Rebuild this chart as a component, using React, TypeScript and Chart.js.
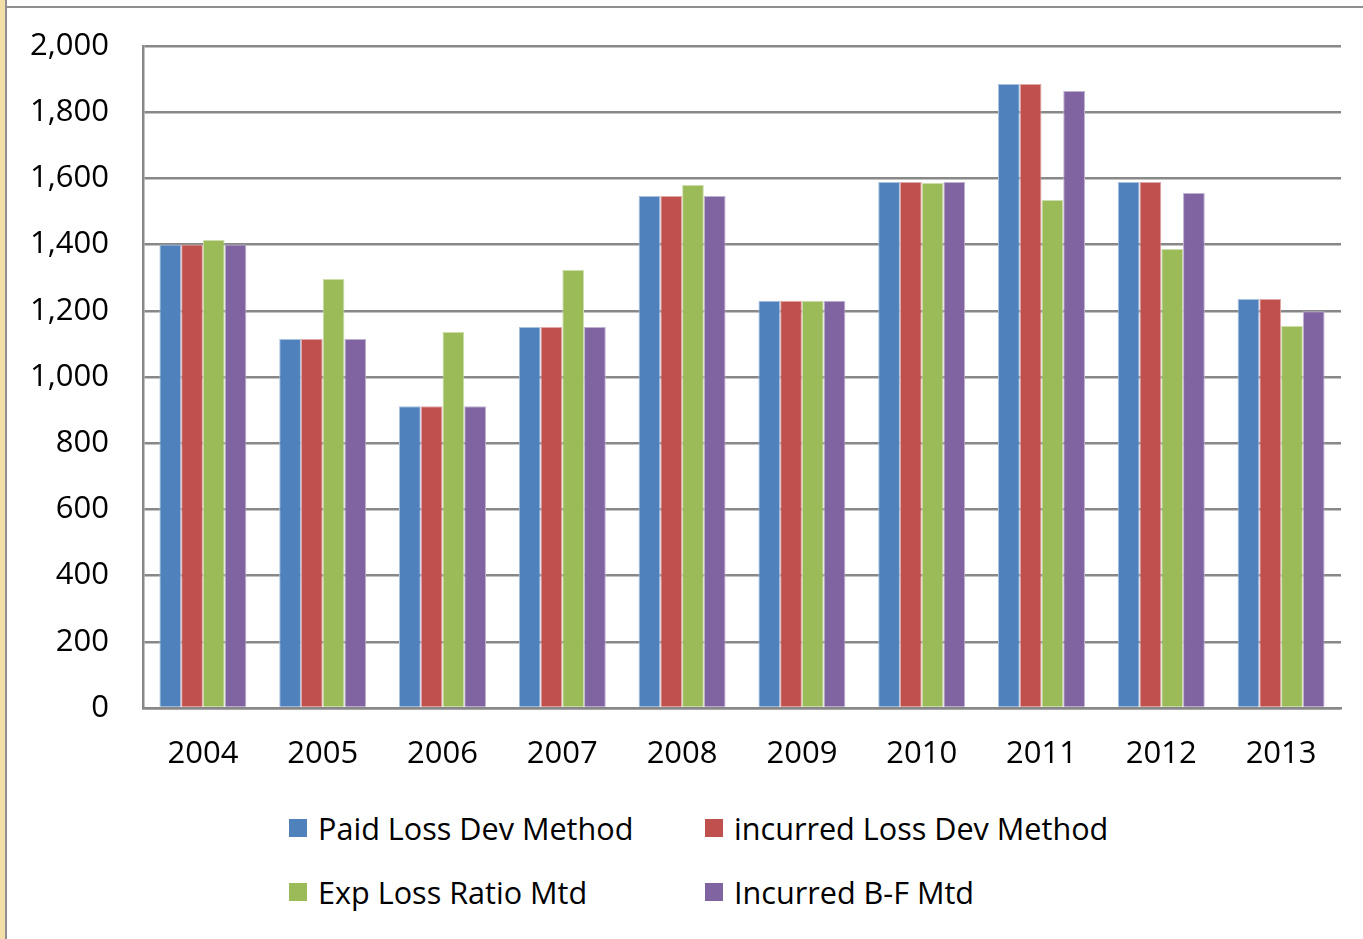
import React, { useEffect, useRef } from "react";
import { Chart, registerables } from "chart.js";

Chart.register(...registerables);

const categories = ["2004", "2005", "2006", "2007", "2008", "2009", "2010", "2011", "2012", "2013"];
const paidLossDev = [1400, 1115, 912, 1151, 1547, 1230, 1589, 1885, 1589, 1236];
const incurredLossDev = [1400, 1115, 912, 1151, 1547, 1230, 1589, 1885, 1589, 1236];
const expLossRatio = [1414, 1296, 1136, 1323, 1580, 1230, 1586, 1535, 1387, 1154];
const incurredBF = [1400, 1115, 912, 1151, 1547, 1230, 1589, 1864, 1556, 1199];
const seriesNames = ["Paid Loss Dev Method", "incurred Loss Dev Method", "Exp Loss Ratio Mtd", "Incurred B-F Mtd"];
const seriesColors = ["#4F81BD", "#C0504D", "#9BBB59", "#8064A2"];
const seriesBorders = ["#a9c1df", "#e0a8a6", "#cddeac", "#bfb1d0"];

const FONT = "'Open Sans', sans-serif";

export default function App() {
  const canvasRef = useRef<HTMLCanvasElement | null>(null);

  useEffect(() => {
    document.body.style.margin = "0";
    const ctx = canvasRef.current;
    if (!ctx) return;
    const data = [paidLossDev, incurredLossDev, expLossRatio, incurredBF];
    const chart = new Chart(ctx, {
      type: "bar",
      data: {
        labels: categories,
        datasets: data.map((d, i) => ({
          label: seriesNames[i],
          data: d,
          backgroundColor: seriesColors[i],
          borderColor: seriesBorders[i],
          borderWidth: 1,
          barPercentage: 1,
          categoryPercentage: 0.726,
        })),
      },
      options: {
        animation: false,
        responsive: false,
        maintainAspectRatio: false,
        layout: { padding: { left: 0, right: 22, top: 38, bottom: 0 } },
        plugins: { legend: { display: false }, tooltip: { enabled: false } },
        scales: {
          x: {
            grid: { display: false, drawTicks: false },
            border: { display: true, color: "#888888", width: 2.5 },
            ticks: { color: "#000", font: { family: FONT, size: 31 }, padding: 28 },
            afterFit: (s: any) => { s.height = 82; s.paddingLeft = 0; s.paddingRight = 0; },
          },
          y: {
            min: 0,
            max: 2000,
            ticks: {
              stepSize: 200,
              color: "#000",
              font: { family: FONT, size: 31 },
              padding: 34,
              callback: (v: any) => Number(v).toLocaleString("en-US"),
            },
            grid: { color: "#888888", lineWidth: 2.5, drawTicks: false },
            border: { display: true, color: "#888888", width: 2.5 },
            afterFit: (s: any) => { s.width = 136; s.paddingTop = 0; s.paddingBottom = 0; },
          },
        },
      },
    });
    return () => chart.destroy();
  }, []);

  const legendItems = [
    { i: 0, x: 289, y: 828 },
    { i: 1, x: 705, y: 828 },
    { i: 2, x: 289, y: 892 },
    { i: 3, x: 705, y: 892 },
  ];

  return (
    <div style={{ position: "absolute", left: 0, top: 0, width: 1363, height: 939, background: "#fff", overflow: "hidden" }}>
      <div style={{ position: "absolute", left: 0, top: 0, width: 5, height: 939, background: "#f3dfa8" }} />
      <div style={{ position: "absolute", left: 5, top: 0, width: 2, height: 939, background: "#8f8f8f" }} />
      <div style={{ position: "absolute", left: 5, top: 6, width: 1358, height: 2, background: "#8f8f8f" }} />
      <canvas ref={canvasRef} width={1356} height={782} style={{ position: "absolute", left: 7, top: 8, width: 1356, height: 782 }} />
      {legendItems.map((it) => (
        <div key={it.i} style={{ position: "absolute", left: it.x, top: it.y - 20, height: 40, display: "flex", alignItems: "center", whiteSpace: "nowrap" }}>
          <div style={{ width: 18, height: 18, background: seriesColors[it.i], marginRight: 11 }} />
          <span style={{ fontFamily: FONT, fontSize: 30.6, color: "#000", lineHeight: "40px" }}>{seriesNames[it.i]}</span>
        </div>
      ))}
    </div>
  );
}
